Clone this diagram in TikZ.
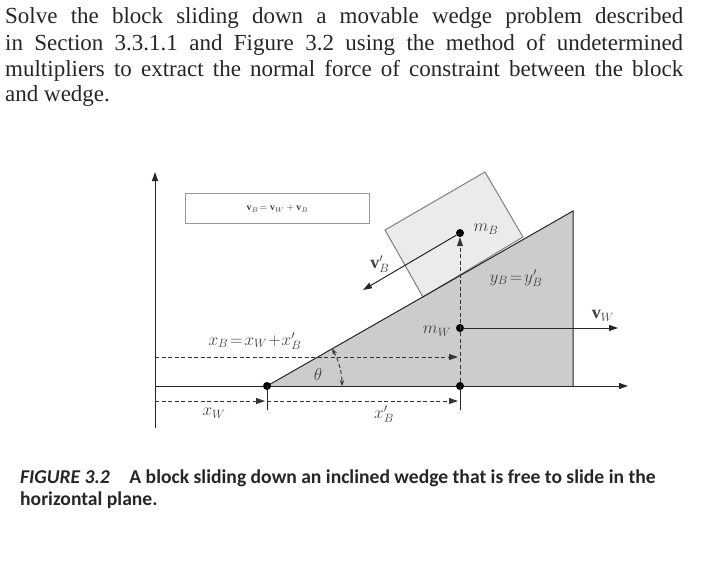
\documentclass[tikz,border=0pt]{standalone}
\usepackage{fontspec}
\setmainfont{Liberation Serif}
\newfontfamily\capfont{Carlito}
\usetikzlibrary{arrows.meta}
\begin{document}
\begin{tikzpicture}[x=1pt,y=-1pt,
  ln/.style={line width=1pt,draw=black!85},
  dsh/.style={line width=0.9pt,dashed,dash pattern=on 4pt off 2.5pt,draw=black!80},
  arr/.style={-{Triangle[length=9pt,width=6pt]}},
  dot/.style={circle,fill=black,inner sep=0pt,minimum size=8pt},
  lab/.style={font=\fontsize{18}{18}\selectfont,text=black!75},
  txt/.style={anchor=base west,inner sep=0pt,font=\fontsize{23}{24}\selectfont,text=black!85}]
\useasboundingbox (0,0) rectangle (720,563);
% text
\node[txt] (t1) at (5,23) {\makebox[678pt][s]{Solve the block sliding down a movable wedge problem described}};
\node[txt] (t2) at (5,50) {\makebox[678pt][s]{in Section 3.3.1.1 and Figure 3.2 using the method of undetermined}};
\node[txt] (t3) at (5,76) {\makebox[678pt][s]{multipliers to extract the normal force of constraint between the block}};
\node[txt] (t4) at (5,101) {and wedge.};
% wedge
\coordinate (A) at (267,386); \coordinate (T) at (573,211); \coordinate (R) at (573,386);
\fill[black!20] (A) -- (T) -- (R) -- cycle;
% block
\draw[line width=1pt,draw=black!50,fill=black!8] (385,230) -- (485,172) -- (523,237) -- (423,297) -- cycle;
\draw[ln] (A) -- (T) -- (R);
% axes
\coordinate (O) at (155,386);
\coordinate (Ytop) at (155,172); \coordinate (Ybot) at (155,428); \coordinate (Xend) at (628,386);
\draw[ln,arr] (Ybot) -- (Ytop);
\draw[ln,arr] (O) -- (Xend);
% dots
\node[dot] (pA) at (A) {};
\node[dot] (pC) at (460,386) {};
\node[dot] (mw) at (460,328) {};
\node[dot] (mb) at (460,233) {};
% dashed
\draw[dsh,arr] (pC) -- (mb);
\coordinate (d1) at (155,357); \coordinate (d1e) at (458,357);
\draw[dsh,arr] (d1) -- (d1e);
\coordinate (d2) at (155,401); \coordinate (d2m) at (265,401); \coordinate (d2s) at (267,401); \coordinate (d2e) at (458,401);
\draw[dsh,arr] (d2) -- (d2m);
\draw[dsh,arr] (d2s) -- (d2e);
\draw[ln] (267,386) -- (267,410);
\draw[ln] (460,386) -- (460,410);
% angle arc
\draw[dsh,{Stealth[length=6pt]}-{Stealth[length=6pt]}] (267,386) ++(-29.8:75) arc[start angle=-29.8,end angle=0,radius=75];
% arrows
\coordinate (vw) at (618,328); \coordinate (vb) at (363,290);
\draw[ln,arr] (mw) -- (vw);
\draw[ln,arr] (mb) -- (vb);
% equation box
\node[draw=black!40,line width=0.8pt,minimum width=184pt,minimum height=30pt,anchor=north west,font=\fontsize{10}{10}\selectfont,text=black!75] (eq) at (185,193) {$\mathbf{v}_B\!=\mathbf{v}_W+\mathbf{v}_B$};
% labels
\node[lab] (l1) at (255,341) {$x_B\!=\!x_W\!+\!x'_B$};
\node[lab] (l2) at (318,374) {$\theta$};
\node[lab] (l3) at (214,413) {$x_W$};
\node[lab] (l4) at (384,414) {$x'_B$};
\node[lab] (l5) at (437,331) {$m_W$};
\node[lab] (l6) at (486,229) {$m_B$};
\node[lab] (l7) at (516,278) {$y_B\!=\!y'_B$};
\node[lab] (l8) at (603,316) {$\mathbf{v}_W$};
\node[lab] (l9) at (380,264) {$\mathbf{v}'_B$};
% caption
\node[anchor=base west,inner sep=0pt,font=\capfont\bfseries\fontsize{19.6}{20}\selectfont,text=black!85] (c1) at (20,483) {\textit{FIGURE 3.2}\quad A block sliding down an inclined wedge that is free to slide in the};
\node[anchor=base west,inner sep=0pt,font=\capfont\bfseries\fontsize{19.6}{20}\selectfont,text=black!85] (c2) at (20,505) {horizontal plane.};
\end{tikzpicture}
\end{document}
